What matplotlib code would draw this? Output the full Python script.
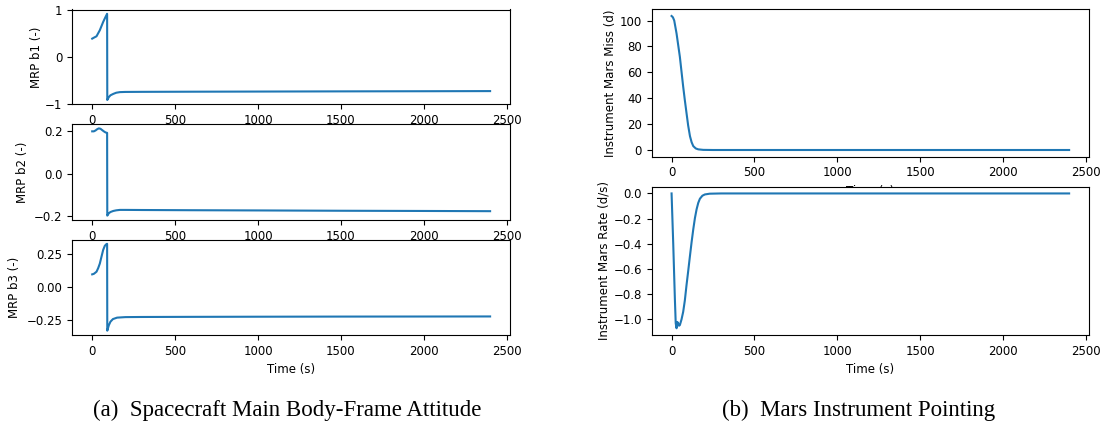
import matplotlib
matplotlib.use("Agg")
import matplotlib.pyplot as plt

# ---------------- data ----------------
t_b1 = [0, 10, 26, 46, 66, 80, 90, 91, 100, 110, 127, 145, 167, 200, 300, 600, 1000, 1500, 2000, 2400]
mrp_b1 = [0.39, 0.41, 0.44, 0.57, 0.745, 0.85, 0.92, -0.92, -0.86, -0.82, -0.79, -0.765, -0.752, -0.748, -0.746, -0.743, -0.740, -0.736, -0.733, -0.730]

t_b2 = [0, 10, 20, 30, 40, 50, 60, 70, 80, 88, 90, 91, 100, 110, 127, 145, 167, 200, 300, 600, 1000, 1500, 2000, 2400]
mrp_b2 = [0.200, 0.200, 0.204, 0.210, 0.214, 0.212, 0.206, 0.200, 0.195, 0.193, 0.193, -0.197, -0.186, -0.180, -0.175, -0.172, -0.170, -0.170, -0.1705, -0.1715, -0.1725, -0.174, -0.175, -0.176]

t_b3 = [0, 10, 26, 36, 46, 56, 66, 76, 86, 90, 91, 100, 110, 125, 150, 200, 300, 600, 1000, 1500, 2000, 2400]
mrp_b3 = [0.098, 0.102, 0.118, 0.145, 0.180, 0.232, 0.283, 0.315, 0.328, 0.330, -0.330, -0.290, -0.262, -0.242, -0.231, -0.227, -0.226, -0.225, -0.224, -0.223, -0.2225, -0.222]

t_miss = [0, 8, 16, 30, 40, 50, 60, 70, 80, 90, 100, 111, 121, 131, 146, 161, 191, 250, 500, 1000, 1500, 2000, 2400]
mars_miss = [103.5, 102.5, 100.0, 90.0, 81.0, 72.0, 60.5, 49.0, 38.5, 28.7, 19.0, 10.7, 6.0, 3.0, 1.2, 0.5, 0.1, 0.0, 0.0, 0.0, 0.0, 0.0, 0.0]

t_rate = [0, 5, 10, 15, 20, 25, 30, 35, 40, 45, 50, 60, 70, 80, 90, 100, 111, 121, 131, 141, 151, 161, 171, 186, 201, 230, 300, 600, 1000, 1500, 2000, 2400]
mars_rate = [0.0, -0.20, -0.40, -0.62, -0.84, -1.03, -1.07, -1.02, -1.035, -1.05, -1.045, -1.00, -0.94, -0.85, -0.73, -0.62, -0.495, -0.385, -0.284, -0.195, -0.126, -0.075, -0.042, -0.018, -0.008, -0.002, 0.0, 0.0, 0.0, 0.0, 0.0, 0.0]

left_labels = ["MRP b1 (-)", "MRP b2 (-)", "MRP b3 (-)"]
left_yticks = [[-1, 0, 1], [-0.2, 0.0, 0.2], [-0.25, 0.00, 0.25]]
left_yticklabels = [["\u22121", "0", "1"], ["\u22120.2", "0.0", "0.2"], ["\u22120.25", "0.00", "0.25"]]
right_labels = ["Instrument Mars Miss (d)", "Instrument Mars Rate (d/s)"]
xticks = [0, 500, 1000, 1500, 2000, 2500]
captions = ["(a)  Spacecraft Main Body-Frame Attitude", "(b)  Mars Instrument Pointing"]

# ---------------- figure ----------------
W, H = 1109, 429
fig = plt.figure(figsize=(W / 100, H / 100), dpi=100)
plt.rcParams['font.family'] = ['DejaVu Sans']
FS = 8.5
color = '#1f77b4'


def px_axes(x0, y0, x1, y1):
    return fig.add_axes([x0 / W, 1 - y1 / H, (x1 - x0) / W, (y1 - y0) / H])


left_boxes = [(72.3, 9.5, 510, 104.3), (72.3, 124, 510, 220), (72.3, 239.5, 510, 335)]
left_data = [(t_b1, mrp_b1), (t_b2, mrp_b2), (t_b3, mrp_b3)]
left_label_x = [-0.067, -0.099, -0.117]
for i, (box, (tt, yy)) in enumerate(zip(left_boxes, left_data)):
    ax = px_axes(*box)
    ax.plot(tt, yy, color=color, lw=1.5)
    ax.set_xlim(-120, 2520)
    ax.set_xticks(xticks)
    ax.set_yticks(left_yticks[i])
    ax.set_yticklabels(left_yticklabels[i])
    ax.set_ylabel(left_labels[i], fontsize=FS)
    ax.yaxis.set_label_coords(left_label_x[i], 0.5)
    ax.tick_params(labelsize=FS)
    if i == 2:
        ax.set_xlabel("Time (s)", fontsize=FS)

right_boxes = [(651.7, 9.3, 1089, 156.7), (651.7, 186.7, 1089, 335)]
right_data = [(t_miss, mars_miss), (t_rate, mars_rate)]
right_yticks = [[0, 20, 40, 60, 80, 100], [0.0, -0.2, -0.4, -0.6, -0.8, -1.0]]
right_label_x = [-0.08, -0.095]
for i, (box, (tt, yy)) in enumerate(zip(right_boxes, right_data)):
    ax = px_axes(*box)
    ax.set_facecolor('white')
    ax.plot(tt, yy, color=color, lw=1.5)
    ax.set_xlim(-120, 2520)
    ax.set_xticks(xticks)
    ax.set_yticks(right_yticks[i])
    ax.set_ylabel(right_labels[i], fontsize=FS)
    ax.set_xlabel("Time (s)", fontsize=FS)
    ax.tick_params(labelsize=FS)
    ax.yaxis.set_label_coords(right_label_x[i], 0.5)

fig.text(287 / W, 1 - 410 / H, captions[0], family='Liberation Serif', fontsize=16.5,
         ha='center', va='center')
fig.text(859 / W, 1 - 410 / H, captions[1], family='Liberation Serif', fontsize=16.5,
         ha='center', va='center')

fig.savefig("out.png", dpi=100)
